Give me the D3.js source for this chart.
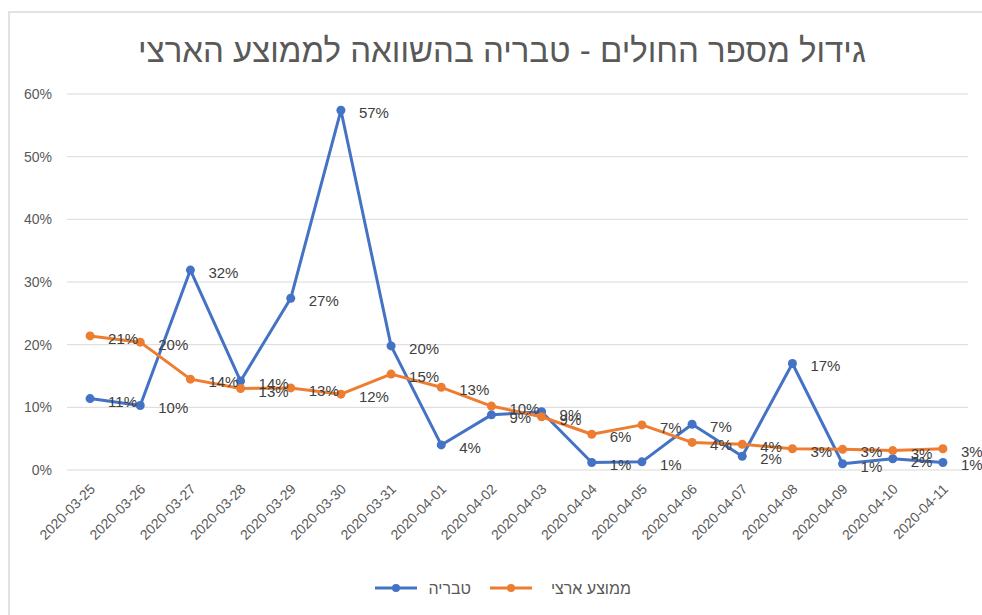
<!DOCTYPE html>
<html>
<head>
<meta charset="utf-8">
<script src="https://cdn.jsdelivr.net/npm/d3@7"></script>
<style>
  body { margin: 0; background: #fff; }
  text { font-family: "Liberation Sans", "DejaVu Sans", sans-serif; }
</style>
</head>
<body>
<svg id="chart" width="982" height="615"></svg>
<script>
// Growth in patient count, Tiberias vs national average

const dates = [
  "2020-03-25", "2020-03-26", "2020-03-27", "2020-03-28", "2020-03-29", "2020-03-30",
  "2020-03-31", "2020-04-01", "2020-04-02", "2020-04-03", "2020-04-04", "2020-04-05",
  "2020-04-06", "2020-04-07", "2020-04-08", "2020-04-09", "2020-04-10", "2020-04-11"
];

const tiberias = [0.114, 0.103, 0.319, 0.142, 0.274, 0.574, 0.198, 0.040, 0.088, 0.093,
  0.012, 0.013, 0.073, 0.022, 0.170, 0.010, 0.018, 0.012];

const national = [0.214, 0.204, 0.145, 0.130, 0.131, 0.121, 0.153, 0.132, 0.102, 0.085,
  0.057, 0.072, 0.044, 0.041, 0.034, 0.033, 0.031, 0.034];

const yTicks = [0, 0.1, 0.2, 0.3, 0.4, 0.5, 0.6];

const series = [
  { name: "טבריה", values: tiberias, color: "#4472c4" },
  { name: "ממוצע ארצי", values: national, color: "#ed7d31" }
];

const svg = d3.select("#chart");

// chart frame
svg.append("rect")
  .attr("x", 9).attr("y", 12)
  .attr("width", 990).attr("height", 620)
  .attr("fill", "none")
  .attr("stroke", "#d9d9d9")
  .attr("stroke-width", 1.5);

svg.append("text")
  .attr("x", 502).attr("y", 62)
  .attr("text-anchor", "middle")
  .attr("direction", "rtl")
  .attr("font-size", 33)
  .attr("fill", "#595959")
  .text("גידול מספר החולים - טבריה בהשוואה לממוצע הארצי");

const x = d3.scalePoint()
  .domain(dates)
  .range([65, 968])
  .padding(0.5);

const y = d3.scaleLinear()
  .domain([0, 0.6])
  .range([470, 94]);

// gridlines
svg.append("g")
  .selectAll("line")
  .data(yTicks)
  .join("line")
  .attr("x1", 67).attr("x2", 968)
  .attr("y1", d => y(d)).attr("y2", d => y(d))
  .attr("stroke", "#d9d9d9")
  .attr("stroke-width", 1);

// y labels
svg.append("g")
  .selectAll("text")
  .data(yTicks)
  .join("text")
  .attr("x", 52)
  .attr("y", d => y(d) + 5)
  .attr("text-anchor", "end")
  .attr("font-size", 14)
  .attr("fill", "#595959")
  .text(d => d3.format(".0%")(d));

// x labels, rotated
svg.append("g")
  .selectAll("text")
  .data(dates)
  .join("text")
  .attr("transform", d => `translate(${x(d) + 6},${490}) rotate(-45)`)
  .attr("text-anchor", "end")
  .attr("font-size", 14)
  .attr("fill", "#595959")
  .text(d => d);

const line = d3.line()
  .x((d, i) => x(dates[i]))
  .y(d => y(d));

series.forEach(s => {
  const g = svg.append("g");
  g.append("path")
    .attr("d", line(s.values))
    .attr("fill", "none")
    .attr("stroke", s.color)
    .attr("stroke-width", 3)
    .attr("stroke-linejoin", "round");
  g.selectAll("circle")
    .data(s.values)
    .join("circle")
    .attr("cx", (d, i) => x(dates[i]))
    .attr("cy", d => y(d))
    .attr("r", 4.5)
    .attr("fill", s.color);
});

// data labels to the right of each point
series.forEach(s => {
  svg.append("g")
    .selectAll("text")
    .data(s.values)
    .join("text")
    .attr("x", (d, i) => x(dates[i]) + 18)
    .attr("y", d => y(d) + 8)
    .attr("font-size", 15)
    .attr("fill", "#404040")
    .text(d => Math.round(d * 100) + "%");
});

// legend
const legend = [
  { s: series[0], x0: 375, tx: 471 },
  { s: series[1], x0: 490, tx: 631 }
];
legend.forEach(l => {
  const g = svg.append("g");
  g.append("line")
    .attr("x1", l.x0).attr("x2", l.x0 + 42)
    .attr("y1", 588).attr("y2", 588)
    .attr("stroke", l.s.color).attr("stroke-width", 3);
  g.append("circle")
    .attr("cx", l.x0 + 21).attr("cy", 588).attr("r", 4)
    .attr("fill", l.s.color);
  g.append("text")
    .attr("x", l.tx).attr("y", 594)
    .attr("text-anchor", "start")
    .attr("direction", "rtl")
    .attr("font-size", 16)
    .attr("fill", "#595959")
    .text(l.s.name);
});
</script>
</body>
</html>
